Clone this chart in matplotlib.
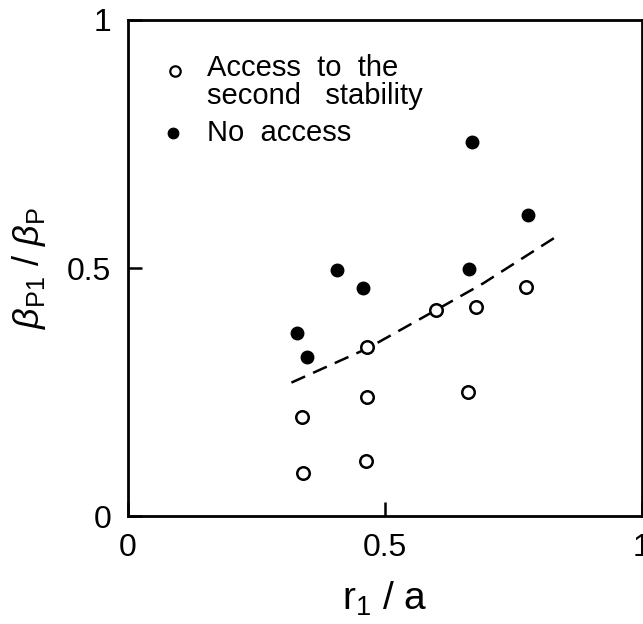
import matplotlib
matplotlib.use("Agg")
import matplotlib.pyplot as plt

plt.rcParams['font.family'] = ['Liberation Sans', 'DejaVu Sans']
plt.rcParams['mathtext.fontset'] = 'custom'
plt.rcParams['mathtext.rm'] = 'Liberation Sans'
plt.rcParams['mathtext.it'] = 'Liberation Sans:italic'

# access to the second stability (open circles)
access_x = [0.341, 0.338, 0.463, 0.466, 0.466, 0.599, 0.661, 0.678, 0.774]
access_y = [0.086, 0.200, 0.110, 0.239, 0.340, 0.415, 0.251, 0.422, 0.461]

# no access (filled circles)
noacc_x = [0.328, 0.348, 0.406, 0.457, 0.664, 0.670, 0.778]
noacc_y = [0.368, 0.320, 0.496, 0.460, 0.499, 0.753, 0.607]

# dashed boundary
bound_x = [0.318, 0.466, 0.599, 0.691, 0.839]
bound_y = [0.269, 0.338, 0.415, 0.469, 0.567]

fig = plt.figure(figsize=(6.43, 6.24), dpi=100)
ax = fig.add_axes([0.199, 0.173, 0.7994, 0.795])

ax.plot(bound_x, bound_y, color="black", linestyle=(0, (6, 3.5)), linewidth=1.8)
ax.plot(access_x, access_y, linestyle="none", marker="o", markersize=9,
        markerfacecolor="white", markeredgecolor="black", markeredgewidth=1.8)
ax.plot(noacc_x, noacc_y, linestyle="none", marker="o", markersize=9,
        color="black")

# hand-made legend
ax.plot([0.092], [0.898], linestyle="none", marker="o", markersize=7.5,
        markerfacecolor="white", markeredgecolor="black", markeredgewidth=1.6)
ax.plot([0.088], [0.772], linestyle="none", marker="o", markersize=7.5, color="black")
ax.text(0.153, 0.932, "Access  to  the\nsecond   stability", fontsize=21,
        va="top", ha="left", linespacing=1.0)
ax.text(0.153, 0.772, "No  access", fontsize=21, va="center", ha="left")

ax.set_xlim(0, 1)
ax.set_ylim(0, 1)
ax.set_xticks([0, 0.5, 1])
ax.set_xticklabels(["0", "0.5", "1"])
ax.set_yticks([0, 0.5, 1])
ax.set_yticklabels(["0", "0.5", "1"])
ax.tick_params(direction="in", length=10, width=1.8, labelsize=23, pad=12)

for s in ax.spines.values():
    s.set_linewidth(2)

ax.set_xlabel("r$_1$ / a", fontsize=28, labelpad=12)
ax.set_ylabel(r"$\beta_{\rm P1}$ / $\beta_{\rm P}$", fontsize=26, labelpad=14)

fig.savefig("out.png", dpi=100)
